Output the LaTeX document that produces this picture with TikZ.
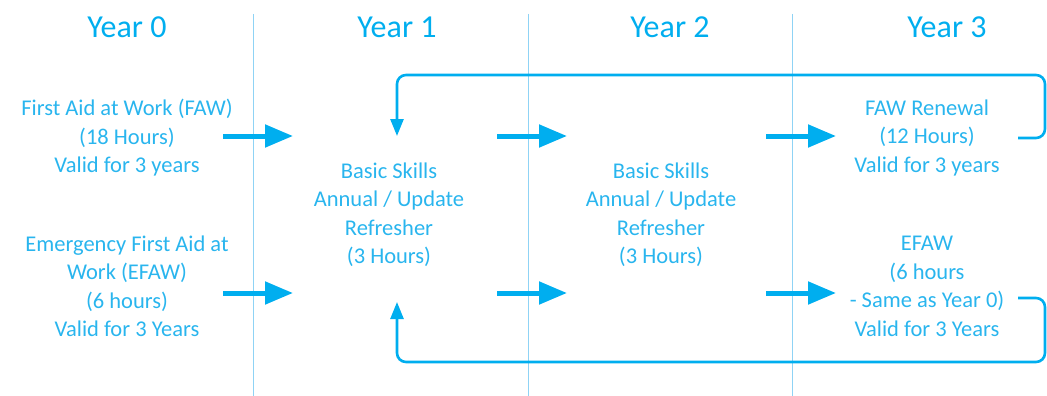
\documentclass[tikz,border=0pt]{standalone}
\usepackage{fontspec}
\setmainfont{Carlito}
\usetikzlibrary{arrows.meta}
\definecolor{cy}{HTML}{00AEEF}
\definecolor{cytext}{HTML}{29B5EE}
\definecolor{vline}{HTML}{8FD3F5}
\tikzset{
  hdr/.style={text=cy, font=\fontsize{32}{34}\selectfont},
  body/.style={text=cytext, align=center, font=\fontsize{22.5}{28.5}\selectfont, inner sep=0pt},
  sep/.style={draw=vline, line width=1pt},
  fat/.style={draw=cy, line width=5pt, -{Triangle[length=28pt,width=22pt]}, shorten >=0pt},
  loop/.style={draw=cy, line width=2.6pt, rounded corners=9pt, -{Triangle[length=17pt,width=13pt]}},
}
\begin{document}
\begin{tikzpicture}[x=1pt,y=-1pt]
\useasboundingbox (0,0) rectangle (1047,396);
% separators
\coordinate (v1t) at (253,14); \coordinate (v1b) at (253,396);
\coordinate (v2t) at (528,14); \coordinate (v2b) at (528,396);
\coordinate (v3t) at (792,14); \coordinate (v3b) at (792,396);
\draw[sep] (v1t) -- (v1b);
\draw[sep] (v2t) -- (v2b);
\draw[sep] (v3t) -- (v3b);
% headers
\node[hdr] (h0) at (127,27) {Year 0};
\node[hdr] (h1) at (397,27) {Year 1};
\node[hdr] (h2) at (670,27) {Year 2};
\node[hdr] (h3) at (947,27) {Year 3};
% texts
\node[body] (faw) at (127,138) {First Aid at Work (FAW)\\(18 Hours)\\Valid for 3 years};
\node[body] (efaw) at (127,286.5) {Emergency First Aid at\\Work (EFAW)\\(6 hours)\\Valid for 3 Years};
\node[body] (bs1) at (389,214.5) {Basic Skills\\Annual / Update\\Refresher\\(3 Hours)};
\node[body] (bs2) at (661,214.5) {Basic Skills\\Annual / Update\\Refresher\\(3 Hours)};
\node[body] (fawr) at (927,138) {FAW Renewal\\(12 Hours)\\Valid for 3 years};
\node[body] (efawr) at (927,286.5) {EFAW\\(6 hours\\- Same as Year 0)\\Valid for 3 Years};
% fat arrows
\coordinate (a1s) at (223,136); \coordinate (a1e) at (293,136);
\coordinate (a2s) at (497,136); \coordinate (a2e) at (567,136);
\coordinate (a3s) at (766,136); \coordinate (a3e) at (836,136);
\coordinate (b1s) at (223,293); \coordinate (b1e) at (293,293);
\coordinate (b2s) at (497,293); \coordinate (b2e) at (567,293);
\coordinate (b3s) at (766,293); \coordinate (b3e) at (836,293);
\draw[fat] (a1s) -- (a1e);
\draw[fat] (a2s) -- (a2e);
\draw[fat] (a3s) -- (a3e);
\draw[fat] (b1s) -- (b1e);
\draw[fat] (b2s) -- (b2e);
\draw[fat] (b3s) -- (b3e);
% loops
\coordinate (ls) at (1018,138); \coordinate (le) at (397,136);
\draw[loop] (ls) -- (1045,138) -- (1045,75) -- (397,75) -- (le);
\coordinate (ms) at (1018,298); \coordinate (me) at (397,302);
\draw[loop] (ms) -- (1045,298) -- (1045,362) -- (397,362) -- (me);
\end{tikzpicture}
\end{document}
